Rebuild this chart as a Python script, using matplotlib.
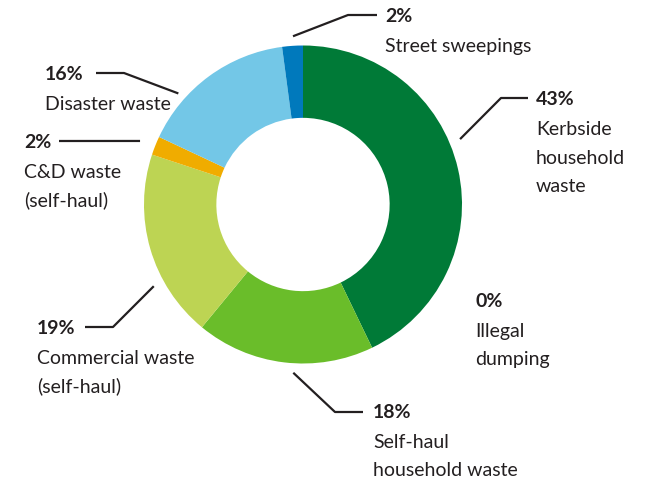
import numpy as np
import matplotlib
matplotlib.use('Agg')
import matplotlib.pyplot as plt

# share of waste by source (clockwise from 12 o'clock)
names = ['Kerbside\nhousehold\nwaste', 'Illegal\ndumping', 'Self-haul\nhousehold waste',
         'Commercial waste\n(self-haul)', 'C&D waste\n(self-haul)', 'Disaster waste',
         'Street sweepings']
shares = [42.8, 0.0, 18.1, 19.1, 1.9, 15.9, 2.1]
colors = ['#007a37', '#4a9a3a', '#6abd2a', '#bdd453', '#f0ac00', '#73c7e7', '#0079bc']

# label layout, pixel coords (y down)
txt_pos = [(536, 105), (475, 307), (373, 418), (37, 334), (24, 148), (45, 80), (385, 22)]
lead_ang = [67.4, None, 183.3, 241.3, 291.3, 311.7, 356.6]
lead_r = [1.07, None, 1.06, 1.07, 1.10, 1.05, 1.06]
lead_pts = [[(501, 98), (528, 98)], None, [(335, 412), (363, 412)], [(113, 327), (85, 327)],
            [(59, 141)], [(124, 73), (96, 73)], [(348, 15), (377, 15)]]

W, H = 649, 483
cx, cy, R = 303, 204.5, 159
ink = '#231f20'
plt.rcParams['font.family'] = ['Lato', 'DejaVu Sans']

fig = plt.figure(figsize=(W/100, H/100), dpi=100)
ax = fig.add_axes([0, 0, 1, 1])

ax.pie(shares, colors=colors, center=(cx, cy), radius=R, startangle=-90, counterclock=True,
       wedgeprops=dict(width=R*0.455, linewidth=0), frame=True)
ax.set_xlim(0, W)
ax.set_ylim(H, 0)
ax.set_aspect('equal')
ax.axis('off')

for i in range(len(names)):
    x, y = txt_pos[i]
    ax.text(x, y, '%.0f%%' % shares[i], fontsize=14, fontweight='bold', color=ink,
            ha='left', va='baseline')
    for k, line in enumerate(names[i].split('\n')):
        ax.text(x, y + 30 + 28.5*k, line, fontsize=14, color=ink, ha='left', va='baseline')
    if lead_ang[i] is None:
        continue
    a = np.radians(lead_ang[i])
    sx = cx + lead_r[i]*R*np.sin(a)
    sy = cy - lead_r[i]*R*np.cos(a)
    pts = [(sx, sy)] + lead_pts[i]
    ax.plot([p[0] for p in pts], [p[1] for p in pts], color=ink, lw=1.6, solid_capstyle='butt')

fig.savefig('out.png', dpi=100)
